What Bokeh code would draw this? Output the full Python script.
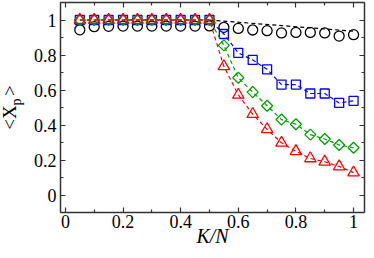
import math
from bokeh.plotting import figure
from bokeh.models import (Title, LinearAxis, FixedTicker, NumeralTickFormatter,
                          CustomJSTickFormatter, Range1d)
from bokeh.embed import file_html
from bokeh.resources import INLINE

# ---- data ----
k_over_n = [0.05, 0.10, 0.15, 0.20, 0.25, 0.30, 0.35, 0.40, 0.45, 0.50,
            0.55, 0.60, 0.65, 0.70, 0.75, 0.80, 0.85, 0.90, 0.95, 1.00]
black_vals = [0.944, 0.962, 0.964, 0.965, 0.965, 0.965, 0.965, 0.965, 0.965, 0.966,
              0.958, 0.952, 0.943, 0.939, 0.926, 0.929, 0.929, 0.926, 0.908, 0.916]
blue_vals = [1.0, 1.0, 1.0, 1.0, 1.0, 1.0, 1.0, 1.0, 1.0, 1.0,
             0.920, 0.812, 0.772, 0.718, 0.631, 0.631, 0.580, 0.580, 0.526, 0.538]
green_vals = [1.0, 1.0, 1.0, 1.0, 1.0, 1.0, 1.0, 1.0, 1.0, 1.0,
              0.855, 0.670, 0.588, 0.510, 0.431, 0.404, 0.345, 0.320, 0.286, 0.270]
red_vals = [1.0, 1.0, 1.0, 1.0, 1.0, 1.0, 1.0, 1.0, 1.0, 1.0,
            0.735, 0.572, 0.462, 0.375, 0.298, 0.250, 0.209, 0.190, 0.163, 0.128]
fit_x = [0.5, 1.0]
fit_y = [1.0, 0.936]

x_major_ticks = [0, 0.2, 0.4, 0.6, 0.8, 1.0]
x_minor_ticks = [0.1, 0.3, 0.5, 0.7, 0.9]
y_major_ticks = [0, 0.2, 0.4, 0.6, 0.8, 1.0]
y_minor_ticks = [-0.1, 0.1, 0.3, 0.5, 0.7, 0.9, 1.1]

x_label = "K/N"
y_label_main = "<X\u00a0\u00a0>"
y_label_sub = "p"

FONT = "Liberation Serif"
AXC = "#333333"

p = figure(width=366, height=250,
           x_range=Range1d(-0.017, 1.038), y_range=Range1d(-0.1, 1.1),
           output_backend="svg", toolbar_location=None,
           min_border_left=58, min_border_right=2,
           min_border_top=2, min_border_bottom=38)
p.xgrid.visible = False
p.ygrid.visible = False
p.outline_line_color = None
p.background_fill_color = "white"
p.border_fill_color = "white"

xt = FixedTicker(ticks=x_major_ticks, minor_ticks=x_minor_ticks)
yt = FixedTicker(ticks=y_major_ticks, minor_ticks=y_minor_ticks)
fmt = NumeralTickFormatter(format="0.[0]")
blank = CustomJSTickFormatter(code="return ''")


def style_axis(ax, standoff):
    ax.axis_line_color = AXC
    ax.axis_line_width = 1.5
    ax.major_tick_line_color = AXC
    ax.minor_tick_line_color = AXC
    ax.major_tick_line_width = 1.2
    ax.minor_tick_line_width = 1.2
    ax.major_tick_in = 5
    ax.major_tick_out = 0
    ax.minor_tick_in = 3
    ax.minor_tick_out = 0
    ax.major_label_text_font = FONT
    ax.major_label_text_color = "black"
    ax.major_label_text_font_size = "18px"
    ax.major_label_standoff = standoff


for ax in p.xaxis:
    ax.ticker = xt
    ax.formatter = fmt
    style_axis(ax, 2)
    ax.axis_label = x_label
    ax.axis_label_text_font = FONT
    ax.axis_label_text_font_style = "italic"
    ax.axis_label_text_font_size = "20px"
    ax.axis_label_text_color = "black"
    ax.axis_label_standoff = -6
for ax in p.yaxis:
    ax.ticker = yt
    ax.formatter = fmt
    style_axis(ax, 4)

top_ax = LinearAxis(ticker=xt, formatter=blank)
style_axis(top_ax, 0)
p.add_layout(top_ax, "above")
right_ax = LinearAxis(ticker=yt, formatter=blank)
style_axis(right_ax, 0)
p.add_layout(right_ax, "right")

# y axis label built from two titles (main text + subscript)
p.add_layout(Title(text=y_label_sub, text_font=FONT, text_font_size="14px",
                   text_font_style="normal", text_color="black",
                   align="left", offset=107, vertical_align="bottom",
                   standoff=13), "left")
p.add_layout(Title(text=y_label_main, text_font=FONT, text_font_size="19px",
                   text_font_style="normal", text_color="black",
                   align="center", vertical_align="bottom",
                   standoff=-38), "left")

# fit line (black dashed)
p.line(fit_x, fit_y, line_color="black", line_width=1.2, line_dash="4 3")
p.scatter(k_over_n, black_vals, marker="circle", size=10,
          fill_color=None, line_color="black", line_width=1.3)

# blue squares
p.line(k_over_n, blue_vals, line_color="#0000ff", line_width=1.2, line_dash="4 3")
p.scatter(k_over_n, blue_vals, marker="square", size=9,
          fill_color=None, line_color="#0000ff", line_width=1.3)

# green diamonds
p.line(k_over_n, green_vals, line_color="#00a000", line_width=1.2, line_dash="4 3")
p.scatter(k_over_n, green_vals, marker="square", angle=math.pi / 4, size=7.8,
          fill_color=None, line_color="#00a000", line_width=1.3)

# red triangles
p.line(k_over_n, red_vals, line_color="#ff0000", line_width=1.2, line_dash="4 3")
p.scatter(k_over_n, red_vals, marker="triangle", size=11.5,
          fill_color=None, line_color="#ff0000", line_width=1.3)

open("out.html", "w").write(file_html(p, INLINE))
